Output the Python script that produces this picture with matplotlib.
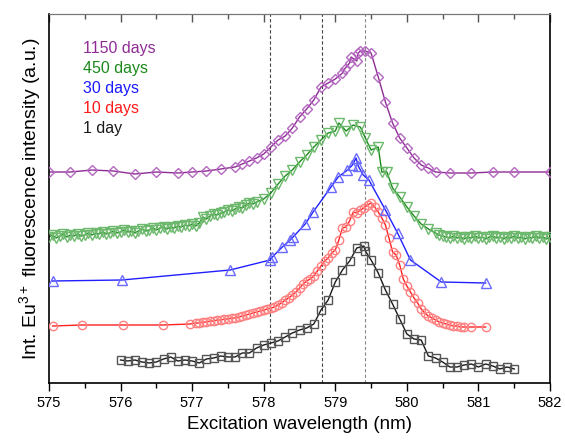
import numpy as np
import matplotlib
matplotlib.use("Agg")
import matplotlib.pyplot as plt
from matplotlib.ticker import MultipleLocator, NullFormatter

plt.rcParams['font.family'] = ['Liberation Sans', 'DejaVu Sans']
plt.rcParams['mathtext.default'] = 'regular'

# 1 day
wl_1 = [576.0, 576.1, 576.2, 576.3, 576.4, 576.5, 576.6, 576.7, 576.8, 576.9,
        577.0, 577.1, 577.2, 577.3, 577.4, 577.5, 577.6, 577.7, 577.8, 577.9,
        578.0, 578.1, 578.2, 578.3, 578.4, 578.5, 578.6, 578.7, 578.8, 578.9,
        579.0, 579.1, 579.2, 579.3, 579.4, 579.42, 579.5, 579.6, 579.7, 579.8,
        579.9, 580.0, 580.1, 580.2, 580.3, 580.4, 580.5, 580.6, 580.7, 580.8,
        580.9, 581.0, 581.1, 581.2, 581.3, 581.4, 581.5]
int_1 = [23, 22, 23, 21, 20, 21, 24, 26, 22, 23,
         22, 20, 24, 25, 27, 26, 26, 30, 30, 35,
         38, 40, 42, 46, 50, 53, 55, 59, 73, 83,
         101, 113, 122, 135, 137, 132, 123, 110, 93, 79,
         64, 49, 44, 43, 27, 25, 21, 16, 16, 18,
         19, 16, 19, 17, 14, 16, 14]

# 10 days
wl_10 = [575.05, 575.46, 576.03, 576.59, 576.97, 577.05, 577.1, 577.15, 577.2, 577.25,
         577.3, 577.35, 577.4, 577.45, 577.5, 577.55, 577.6, 577.65, 577.7, 577.75,
         577.8, 577.85, 577.9, 577.95, 578.0, 578.05, 578.1, 578.15, 578.2, 578.25,
         578.3, 578.35, 578.4, 578.45, 578.5, 578.55, 578.6, 578.65, 578.7, 578.75,
         578.8, 578.85, 578.9, 578.95, 579.0, 579.05, 579.1, 579.15, 579.2, 579.25,
         579.3, 579.35, 579.4, 579.45, 579.5, 579.55, 579.6, 579.65, 579.7, 579.75,
         579.8, 579.85, 579.9, 579.95, 580.0, 580.05, 580.1, 580.15, 580.2, 580.25,
         580.3, 580.35, 580.4, 580.45, 580.5, 580.55, 580.6, 580.65, 580.7, 580.75,
         580.8, 580.9, 581.1]
int_10 = [57, 58, 58, 58, 59, 60, 60, 61, 61, 62,
          62, 63, 63, 64, 64, 65, 65, 66, 67, 68,
          69, 70, 71, 72, 73, 74, 75, 76, 78, 80,
          83, 85, 88, 91, 95, 99, 102, 104, 107, 112,
          117, 122, 125, 130, 133, 143, 155, 156, 162, 171,
          170, 173, 175, 178, 180, 176, 171, 165, 158, 145,
          131, 128, 118, 104, 97, 91, 85, 80, 74, 70,
          67, 65, 63, 61, 60, 59, 58, 57, 57, 56,
          56, 56, 56]

# 30 days
wl_30 = [575.05, 576.02, 577.53, 578.09, 578.12, 578.26, 578.37, 578.41, 578.58, 578.69,
         578.94, 579.04, 579.17, 579.24, 579.29, 579.32, 579.39, 579.47, 579.70, 579.87,
         580.05, 580.48, 581.10]
int_30 = [102, 103, 113, 123, 126, 136, 143, 146, 159, 171,
          196, 206, 213, 218, 225, 217, 208, 203, 173, 150,
          123, 101, 100]

# 450 days
wl_450 = [575.00, 575.05, 575.10, 575.15, 575.20, 575.25, 575.30, 575.35, 575.40, 575.45,
          575.50, 575.55, 575.60, 575.65, 575.70, 575.75, 575.80, 575.85, 575.90, 575.95,
          576.00, 576.05, 576.10, 576.15, 576.20, 576.25, 576.30, 576.35, 576.40, 576.45,
          576.50, 576.55, 576.60, 576.65, 576.70, 576.75, 576.80, 576.85, 576.90, 576.95,
          577.00, 577.05, 577.10, 577.15, 577.20, 577.25, 577.30, 577.35, 577.40, 577.45,
          577.50, 577.55, 577.60, 577.65, 577.70, 577.75, 577.80, 577.85, 577.90,
          578.00, 578.10, 578.20, 578.30, 578.40, 578.50, 578.60, 578.70, 578.80, 578.90,
          579.00, 579.05, 579.15, 579.25, 579.35, 579.42, 579.50, 579.60, 579.65, 579.72,
          579.80, 579.90, 580.00, 580.10, 580.20, 580.30, 580.40, 580.45, 580.50,
          580.55, 580.60, 580.65, 580.70, 580.75, 580.80, 580.85, 580.90, 580.95, 581.00,
          581.05, 581.10, 581.15, 581.20, 581.25, 581.30, 581.35, 581.40, 581.45, 581.50,
          581.55, 581.60, 581.65, 581.70, 581.75, 581.80, 581.85, 581.90, 581.95, 582.00]
int_450 = [146, 148, 145, 147, 149, 146, 148, 147, 149, 147,
           148, 150, 148, 150, 149, 151, 149, 150, 152, 150,
           151, 153, 151, 152, 150, 152, 154, 152, 153, 155,
           153, 155, 156, 154, 156, 155, 157, 156, 158, 157,
           159, 157, 160, 166, 164, 167, 169, 168, 170, 171,
           173, 172, 174, 176, 175, 178, 180, 179, 181,
           184, 190, 199, 207, 213, 221, 228, 236, 243, 250,
           252, 260, 252, 258, 256, 245, 233, 236, 211, 211,
           195, 186, 176, 167, 159, 154, 150, 148, 147,
           146, 145, 147, 145, 146, 144, 146, 145, 147, 145,
           146, 144, 146, 147, 145, 146, 144, 146, 145, 147,
           145, 146, 144, 146, 145, 147, 145, 146, 144, 146]

# 1150 days
wl_1150 = [575.0, 575.3, 575.6, 575.9, 576.2, 576.5, 576.8, 577.0, 577.2, 577.4,
           577.6, 577.7, 577.8, 577.9, 578.0, 578.1, 578.2, 578.3, 578.4, 578.5,
           578.6, 578.7, 578.8, 578.9, 579.0, 579.1, 579.13, 579.2, 579.22, 579.3,
           579.32, 579.35, 579.42, 579.5, 579.6, 579.7, 579.8, 579.9, 580.0, 580.1,
           580.2, 580.3, 580.4, 580.6, 580.9, 581.2, 581.5, 582.0]
int_1150 = [211, 211, 213, 212, 209, 211, 210, 211, 212, 214,
            216, 219, 222, 225, 229, 236, 243, 247, 255, 266,
            274, 283, 296, 300, 304, 310, 314, 320, 326, 322,
            330, 332, 332, 330, 306, 281, 260, 245, 235, 225,
            218, 215, 211, 210, 210, 211, 211, 211]

peak_lines = [578.09, 578.81, 579.42]

labels = ['1150 days', '450 days', '30 days', '10 days', '1 day']
text_colors = ['#8e2c95', '#1b8a1b', '#1a1aff', '#ff1a1a', '#1a1a1a']

fig = plt.figure(figsize=(5.65, 4.42), dpi=100)
ax = fig.add_axes([0.0867, 0.1335, 0.8868, 0.8348])

for x, c in zip(peak_lines, ['#444444', '#444444', '#888888']):
    ax.axvline(x, color=c, lw=0.8, ls=(0, (3, 2)), zorder=1)

# series: (x, y, marker, line colour, marker colour, marker size)
series = [
    (wl_1, int_1, 's', '#1a1a1a', '#555555', 5.5),
    (wl_10, int_10, 'o', '#ff2020', '#ff8080', 6),
    (wl_30, int_30, '^', '#2020ff', '#6a6aff', 6.5),
    (wl_450, int_450, 'v', '#1b8a1b', '#6cb86c', 7),
    (wl_1150, int_1150, 'D', '#8e2c95', '#b468c0', 5.5),
]
for x, y, m, lc, mc, ms in series:
    ax.plot(x, y, color=lc, lw=1.0, zorder=2)
    ax.plot(x, y, ls='none', marker=m, ms=ms, mfc='none', mec=mc, mew=1.0, zorder=3)

for i, (lab, c) in enumerate(zip(labels, text_colors)):
    ax.text(0.068, 0.906 - i * 0.0542, lab, color=c, fontsize=11.5,
            transform=ax.transAxes, va='center', ha='left')

ax.set_xlim(575, 582)
ax.set_ylim(0, 369)
ax.set_yticks([])
ax.xaxis.set_major_locator(MultipleLocator(1))
ax.xaxis.set_minor_locator(MultipleLocator(0.5))
ax.tick_params(axis='x', which='major', direction='out', length=6, width=1, labelsize=10.5)
ax.tick_params(axis='x', which='minor', direction='out', length=3.5, width=1)

# top axis: inward ticks, no labels
top = ax.secondary_xaxis('top')
top.xaxis.set_major_locator(MultipleLocator(1))
top.xaxis.set_minor_locator(MultipleLocator(0.5))
top.xaxis.set_major_formatter(NullFormatter())
top.tick_params(which='major', direction='in', length=6, width=1, color='#555555')
top.tick_params(which='minor', direction='in', length=3.5, width=1, color='#555555')
top.spines['top'].set_color('#777777')

for sp in ['left', 'bottom', 'right']:
    ax.spines[sp].set_linewidth(1.2)
ax.spines['top'].set_color('#777777')

ax.set_xlabel('Excitation wavelength (nm)', fontsize=13.5)
ax.set_ylabel('Int. Eu$^{3+}$ fluorescence intensity (a.u.)', fontsize=14)

fig.savefig('out.png', dpi=100)
